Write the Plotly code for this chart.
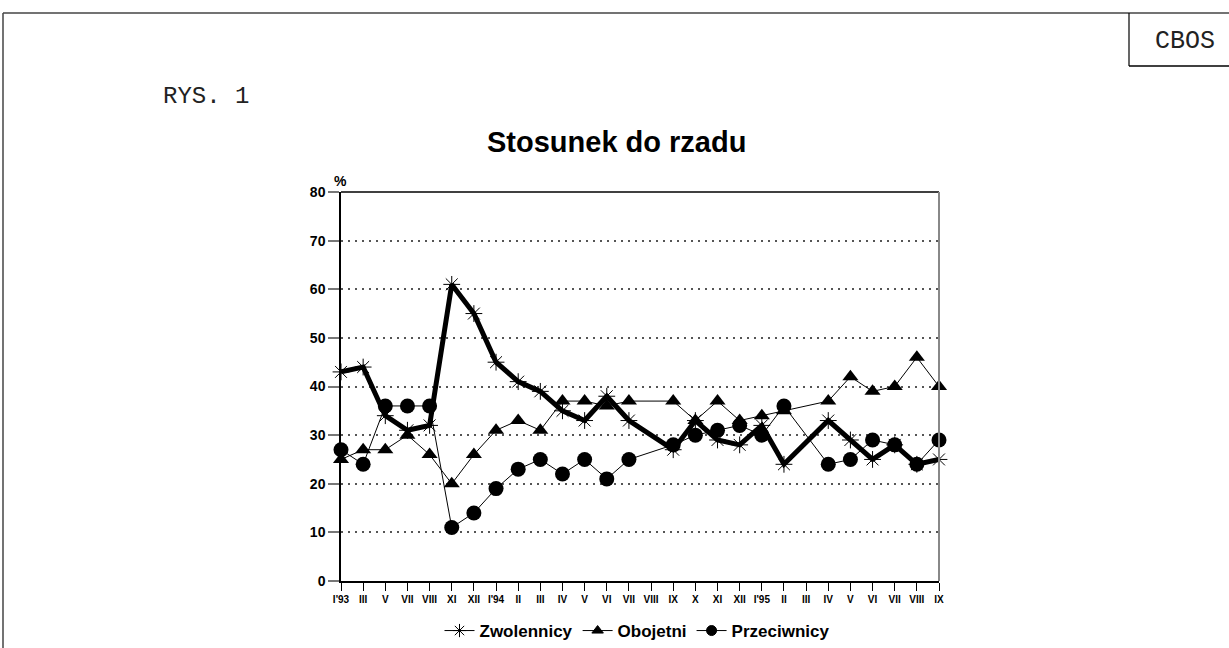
import plotly.graph_objects as go

months = ["I'93", "III", "V", "VII", "VIII", "XI", "XII", "I'94", "II", "III",
          "IV", "V", "VI", "VII", "VIII", "IX", "X", "XI", "XII", "I'95",
          "II", "III", "IV", "V", "VI", "VII", "VIII", "IX"]
zwolennicy = [43, 44, 34, 31, 32, 61, 55, 45, 41, 39, 35, 33, 38, 33, None, 27,
              33, 29, 28, 32, 24, None, 33, 29, 25, 28, 24, 25]
obojetni = [25, 27, 27, 30, 26, 20, 26, 31, 33, 31, 37, 37, 36, 37, None, 37,
            33, 37, 33, 34, 35, None, 37, 42, 39, 40, 46, 40]
przeciwnicy = [27, 24, 36, 36, 36, 11, 14, 19, 23, 25, 22, 25, 21, 25, None, 28,
               30, 31, 32, 30, 36, None, 24, 25, 29, 28, 24, 29]
y_ticks = [0, 10, 20, 30, 40, 50, 60, 70, 80]

xs = list(range(len(months)))

W, H = 1229, 648
# plot-area edges in page pixels
L, R, T, B = 341, 939, 192, 581


def px(x):
    return (x - L) / (R - L)


def py(y):
    return (B - y) / (B - T)


fig = go.Figure()

fig.add_trace(go.Scatter(
    x=xs, y=zwolennicy, name="Zwolennicy", mode="lines+markers",
    connectgaps=True, showlegend=False, cliponaxis=False,
    line=dict(color="black", width=5),
    marker=dict(symbol="asterisk-open", size=14, color="black",
                line=dict(color="black", width=1)),
))
fig.add_trace(go.Scatter(
    x=xs, y=obojetni, name="Obojetni", mode="lines+markers",
    connectgaps=True, showlegend=False, cliponaxis=False,
    line=dict(color="black", width=1),
    marker=dict(symbol="triangle-up", size=14, color="black"),
))
fig.add_trace(go.Scatter(
    x=xs, y=przeciwnicy, name="Przeciwnicy", mode="lines+markers",
    connectgaps=True, showlegend=False, cliponaxis=False,
    line=dict(color="black", width=1),
    marker=dict(symbol="circle", size=15, color="black"),
))

# legend entries (thin line + symbol, as in the reference key)
for name, sym, sz in [("Zwolennicy", "asterisk-open", 11),
                      ("Obojetni", "triangle-up", 10),
                      ("Przeciwnicy", "circle", 10)]:
    fig.add_trace(go.Scatter(
        x=[None], y=[None], name=name, mode="lines+markers",
        line=dict(color="black", width=1),
        marker=dict(symbol=sym, size=sz, color="black",
                    line=dict(color="black", width=1)),
    ))

shapes = [
    # page frame
    dict(type="line", xref="paper", yref="paper", x0=px(3), x1=px(W + 20), y0=py(13), y1=py(13),
         line=dict(color="#444", width=1.5)),
    dict(type="line", xref="paper", yref="paper", x0=px(3), x1=px(3), y0=py(13), y1=py(H + 20),
         line=dict(color="#444", width=1.5)),
    # CBOS box
    dict(type="line", xref="paper", yref="paper", x0=px(1129), x1=px(1129), y0=py(13), y1=py(66),
         line=dict(color="black", width=1.2)),
    dict(type="line", xref="paper", yref="paper", x0=px(1129), x1=px(W + 20), y0=py(66), y1=py(66),
         line=dict(color="black", width=1.5)),
    # plot top and right border
    dict(type="line", xref="paper", yref="paper", x0=0, x1=1, y0=1, y1=1,
         line=dict(color="black", width=1.5)),
    dict(type="line", xref="paper", yref="paper", x0=1, x1=1, y0=0, y1=1,
         line=dict(color="#888", width=2)),
]

annotations = [
    dict(text="CBOS", xref="paper", yref="paper", x=px(1185), y=py(41),
         showarrow=False, font=dict(family="Liberation Mono", size=25, color="#222"),
         xanchor="center", yanchor="middle"),
    dict(text="RYS. 1", xref="paper", yref="paper", x=px(161), y=py(97),
         showarrow=False, font=dict(family="Liberation Mono", size=24, color="#222"),
         xanchor="left", yanchor="middle"),
    dict(text="<b>Stosunek do rzadu</b>", xref="paper", yref="paper", x=px(616), y=py(142),
         showarrow=False, font=dict(family="Liberation Sans", size=29, color="black"),
         xanchor="center", yanchor="middle"),
    dict(text="<b>%</b>", xref="paper", yref="paper", x=px(340), y=py(181),
         showarrow=False, font=dict(family="Liberation Sans", size=14, color="black"),
         xanchor="center", yanchor="middle"),
]

fig.update_layout(
    width=W, height=H,
    margin=dict(l=L, r=W - R, t=T, b=H - B, autoexpand=False),
    paper_bgcolor="white", plot_bgcolor="white",
    font=dict(family="Liberation Sans", color="black"),
    shapes=shapes, annotations=annotations,
    showlegend=True,
    legend=dict(orientation="h", x=px(637), y=py(631), xanchor="center", yanchor="middle",
                font=dict(family="Liberation Sans", size=17, color="black", weight="bold"),
                itemwidth=30, tracegroupgap=0, bgcolor="rgba(0,0,0,0)"),
)

fig.update_xaxes(
    range=[0, len(months) - 1], tickmode="array", tickvals=xs, ticktext=months,
    showgrid=False, zeroline=False, showline=True, linecolor="black", linewidth=1.5,
    ticks="outside", ticklen=8, tickcolor="black", tickwidth=1,
    tickfont=dict(family="Liberation Sans", size=10, color="black", weight="bold"),
    tickangle=0,
)
fig.update_yaxes(
    range=[0, 80], tickmode="array", tickvals=y_ticks,
    showgrid=True, gridcolor="#555", griddash="2px,5px", gridwidth=1.5,
    zeroline=False, showline=True, linecolor="black", linewidth=1.5,
    ticks="outside", ticklen=11, tickcolor="#777", tickwidth=1.5,
    tickfont=dict(family="Liberation Sans", size=14, color="black", weight="bold"),
)

fig.write_html("out.html",
               config={"displayModeBar": False},
               post_script="document.body.style.margin='0px';document.body.style.overflow='hidden';")
